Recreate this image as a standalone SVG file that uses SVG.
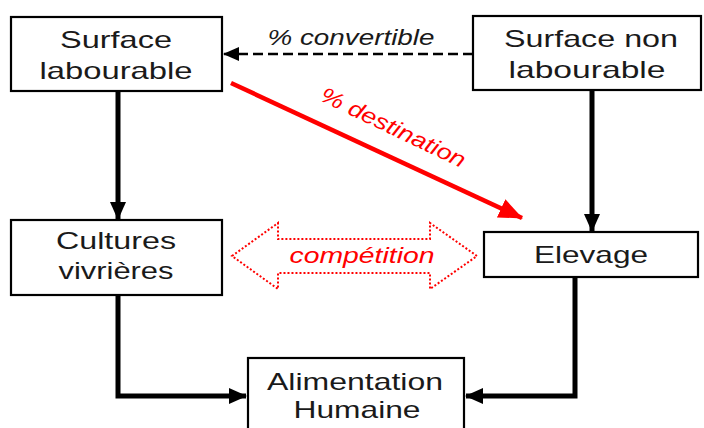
<svg xmlns="http://www.w3.org/2000/svg" width="704" height="428" viewBox="0 0 704 428">
<style>
.box{fill:#fff;stroke:#000;stroke-width:2.2}
.t{font-family:"Liberation Sans",Arial,sans-serif;font-size:24px;fill:#1a1a1a;text-anchor:middle}
.lbl{font-family:"Liberation Sans",Arial,sans-serif;font-size:22px;font-style:italic;text-anchor:middle}
.thick{fill:none;stroke:#000;stroke-width:5}
</style>
<defs>
<marker id="ah" viewBox="0 0 18 16" refX="17" refY="8" markerWidth="18" markerHeight="16" markerUnits="userSpaceOnUse" orient="auto">
<path d="M0,0 L18,8 L0,16 Z" fill="#000"/>
</marker>
<marker id="ahs" viewBox="0 0 16 14" refX="15" refY="7" markerWidth="16" markerHeight="14" markerUnits="userSpaceOnUse" orient="auto">
<path d="M0,0 L16,7 L0,14 Z" fill="#000"/>
</marker>
<marker id="ahr" viewBox="0 0 24 20" refX="23" refY="10" markerWidth="24" markerHeight="20" markerUnits="userSpaceOnUse" orient="auto">
<path d="M0,0 L24,10 L0,20 Z" fill="#f00"/>
</marker>
</defs>
<rect width="704" height="428" fill="#fff"/>
<g id="connectors">
<line x1="473" y1="54" x2="224" y2="54" stroke="#000" stroke-width="2.5" stroke-dasharray="10 5" marker-end="url(#ahs)"/>
<line x1="118" y1="91" x2="118" y2="219" class="thick" marker-end="url(#ah)"/>
<line x1="592" y1="90" x2="592" y2="231" class="thick" marker-end="url(#ah)"/>
<line x1="231" y1="83" x2="522" y2="218" stroke="#f00" stroke-width="4.5" marker-end="url(#ahr)"/>
<polyline points="118,295 118,396 246,396" class="thick" marker-end="url(#ah)"/>
<polyline points="575,277 575,396 466,396" class="thick" marker-end="url(#ah)"/>
<polygon points="232,256 278,223 278,239 430,239 430,223 477,256 430,289 430,273 278,273 278,289" fill="none" stroke="#f00" stroke-width="2" stroke-dasharray="2 2"/>
<text class="lbl" x="351" y="45" fill="#1a1a1a" textLength="167" lengthAdjust="spacingAndGlyphs">% convertible</text>
<text class="lbl" x="362" y="263" fill="#f00" textLength="145" lengthAdjust="spacingAndGlyphs">compétition</text>
<text class="lbl" x="390" y="134" fill="#f00" textLength="158" lengthAdjust="spacingAndGlyphs" transform="rotate(25.5 390 134)">% destination</text>
</g>
<g id="surface-labourable">
<rect class="box" x="11" y="17" width="211" height="74"/>
<text class="t" x="116" y="48" textLength="112" lengthAdjust="spacingAndGlyphs">Surface</text>
<text class="t" x="116" y="79" textLength="153" lengthAdjust="spacingAndGlyphs">labourable</text>
</g>
<g id="surface-non-labourable">
<rect class="box" x="473" y="16" width="228" height="74"/>
<text class="t" x="591" y="47" textLength="174" lengthAdjust="spacingAndGlyphs">Surface non</text>
<text class="t" x="587" y="78" textLength="157" lengthAdjust="spacingAndGlyphs">labourable</text>
</g>
<g id="cultures-vivrieres">
<rect class="box" x="11" y="220" width="211" height="75"/>
<text class="t" x="116" y="249" textLength="120" lengthAdjust="spacingAndGlyphs">Cultures</text>
<text class="t" x="116" y="279" textLength="115" lengthAdjust="spacingAndGlyphs">vivrières</text>
</g>
<g id="elevage">
<rect class="box" x="484" y="232" width="214" height="45"/>
<text class="t" x="591" y="263" textLength="114" lengthAdjust="spacingAndGlyphs">Elevage</text>
</g>
<g id="alimentation-humaine">
<rect class="box" x="248" y="358" width="216" height="82"/>
<text class="t" x="355" y="390" textLength="176" lengthAdjust="spacingAndGlyphs">Alimentation</text>
<text class="t" x="357" y="418" textLength="127" lengthAdjust="spacingAndGlyphs">Humaine</text>
</g>
</svg>
